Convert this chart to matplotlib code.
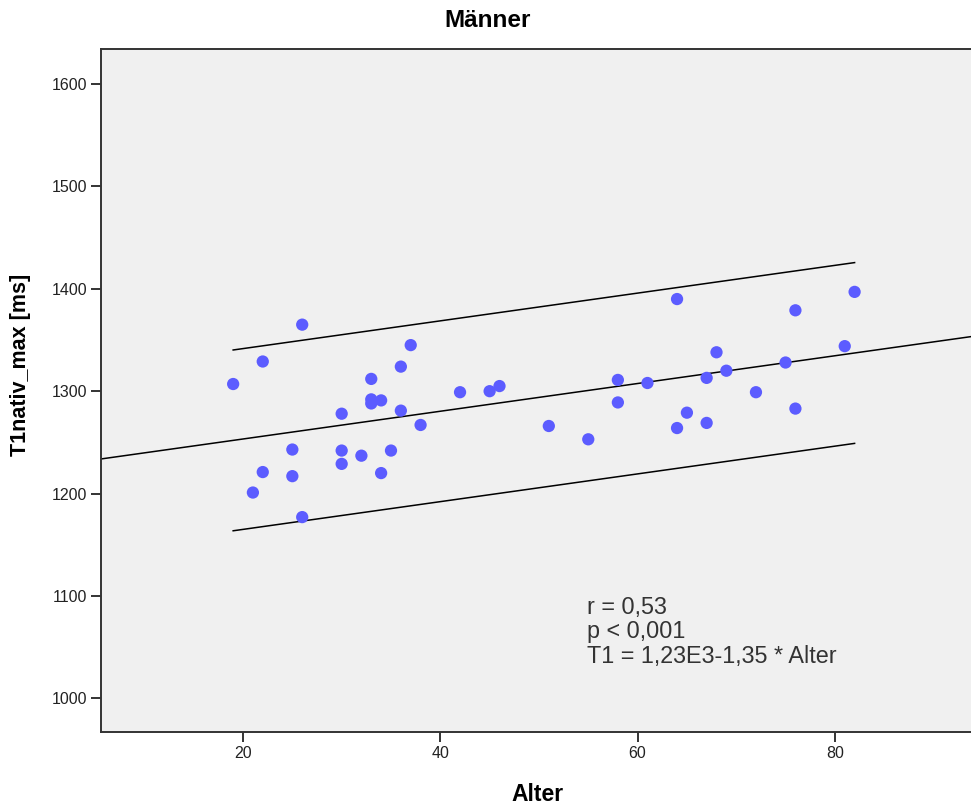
import matplotlib.pyplot as plt
import numpy as np

# ages and T1 values
alter = [19, 21, 22, 22, 25, 25, 26, 26, 30, 30, 30, 32, 33, 33, 33, 34, 34, 35,
         36, 36, 37, 38, 42, 45, 46, 51, 55, 58, 58, 61, 64, 64, 65, 67, 67, 68,
         69, 72, 75, 76, 76, 81, 82]
t1 = [1307, 1201, 1329, 1221, 1243, 1217, 1365, 1177, 1278, 1242, 1229, 1237,
      1312, 1292, 1288, 1291, 1220, 1242, 1324, 1281, 1345, 1267, 1299, 1300,
      1305, 1266, 1253, 1311, 1289, 1308, 1390, 1264, 1279, 1313, 1269, 1338,
      1320, 1299, 1328, 1379, 1283, 1344, 1397]

# regression line and prediction band
fit_intercept = 1226.2
fit_slope = 1.355
band_halfwidth = 88.3
band_range = [19, 82]

xlim = (5.6, 93.8)
ylim = (967.1, 1634.7)

plt.rcParams['font.family'] = ['Liberation Sans', 'DejaVu Sans']

fig = plt.figure(figsize=(9.71, 8.05), dpi=100)
ax = fig.add_axes([0.104, 0.0907, 0.896, 0.849])
ax.set_facecolor('#f0f0f0')

xs = np.array(xlim)
ax.plot(xs, fit_intercept + fit_slope * xs, color='black', lw=1.1, zorder=2)
xb = np.array(band_range)
ax.plot(xb, fit_intercept + fit_slope * xb + band_halfwidth, color='black', lw=1.1, zorder=2)
ax.plot(xb, fit_intercept + fit_slope * xb - band_halfwidth, color='black', lw=1.1, zorder=2)

ax.scatter(alter, t1, s=78, color='#5c5cff', edgecolors='none', zorder=3)

ax.set_xlim(xlim)
ax.set_ylim(ylim)
ax.set_xticks([20, 40, 60, 80])
ax.set_yticks([1000, 1100, 1200, 1300, 1400, 1500, 1600])

for side in ['left', 'top', 'bottom']:
    ax.spines[side].set_color('#333333')
    ax.spines[side].set_linewidth(1.4)
ax.spines['right'].set_visible(False)
ax.tick_params(length=7, width=1.4, color='#333333', labelsize=11.5,
               labelcolor='#222222', pad=3)

fig.text(0.502, 0.975, 'Männer', fontsize=17.5, fontweight='bold',
         ha='center', va='center')
ax.set_xlabel('Alter', fontsize=16.5, fontweight='bold')
ax.xaxis.set_label_coords(0.502, -0.074)
ax.set_ylabel('T1nativ_max [ms]', fontsize=15.5, fontweight='bold')
ax.yaxis.set_label_coords(-0.080, 0.537)

ax.text(54.9, 1100, 'r = 0,53\np < 0,001\nT1 = 1,23E3-1,35 * Alter',
        fontsize=16.8, color='#333333', va='top', ha='left', linespacing=1.08)

fig.savefig('out.png', dpi=100)
